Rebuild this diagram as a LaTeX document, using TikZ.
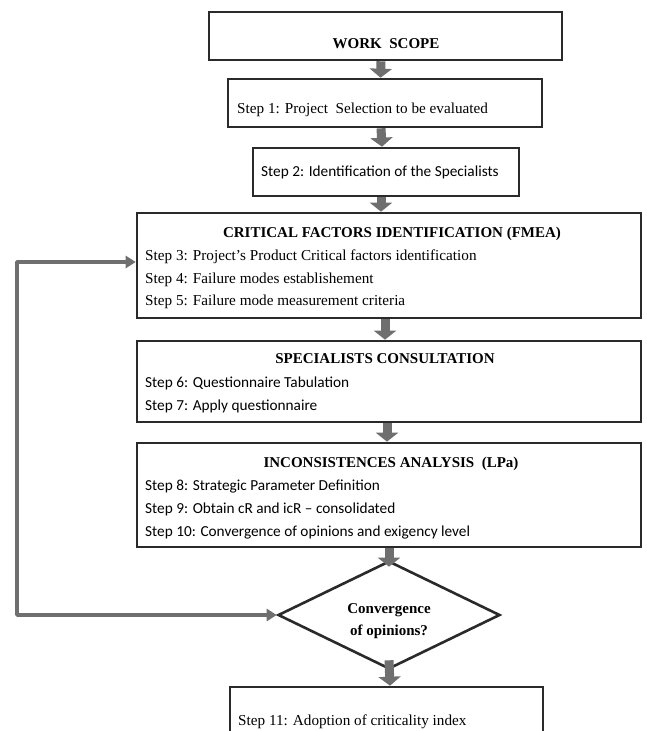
\documentclass[tikz,border=0pt]{standalone}
\usepackage{fontspec}
\setmainfont{Liberation Serif}
\newfontfamily\calib{Carlito}
\usetikzlibrary{arrows.meta,shapes.geometric,calc}
\definecolor{boxc}{HTML}{2A2A2A}
\definecolor{arrc}{HTML}{6F6F6F}
\begin{document}
\begin{tikzpicture}[x=1pt,y=-1pt,
  box/.style={draw=boxc, line width=2.6pt, fill=white, inner sep=0pt},
  ttl/.style={font=\fontsize{15}{15}\selectfont\bfseries, inner sep=0pt, anchor=base},
  ser/.style={font=\fontsize{15.2}{15}\selectfont, inner sep=0pt, anchor=base west},
  san/.style={font=\calib\fontsize{15.3}{15}\selectfont, inner sep=0pt, anchor=base west},
  blk/.style={draw=arrc, line width=9pt, -{Triangle[width=22pt,length=9pt]}},
  fb/.style={draw=arrc, line width=3.5pt, line join=round, {Triangle[width=12pt,length=10pt]}-{Triangle[width=12pt,length=10pt]}}
]
\clip (0,0) rectangle (646,731);
\fill[white] (0,0) rectangle (646,731);
% boxes
\node[box, minimum width=353pt, minimum height=48pt] (ws) at (385.5,36) {};
\node[box, minimum width=314pt, minimum height=48pt] (s1) at (385,103) {};
\node[box, minimum width=266pt, minimum height=48pt] (s2) at (386,172) {};
\node[box, minimum width=504pt, minimum height=105pt] (crit) at (389,265.5) {};
\node[box, minimum width=504pt, minimum height=81pt] (spec) at (389,381.5) {};
\node[box, minimum width=504pt, minimum height=104pt] (inc) at (389,495) {};
\node[box, diamond, minimum width=222pt, minimum height=108pt] (dia) at (389,615) {};
\node[box, minimum width=313pt, minimum height=83pt] (s11) at (386.5,728.5) {};
% texts
\node[ttl] (tws) at (386,48) {WORK\ \ SCOPE};
\node[ser] (ts1) at (237,113) {Step 1: Project\ \ Selection to be evaluated};
\node[san] (ts2) at (261,176) {Step 2: Identification of the Specialists};
\node[ttl] (tcrit) at (392,237) {CRITICAL FACTORS IDENTIFICATION (FMEA)};
\node[ser] (ts3) at (145,260) {Step 3: Project’s Product Critical factors identification};
\node[ser] (ts4) at (145,283) {Step 4: Failure modes establishement};
\node[ser] (ts5) at (145,305) {Step 5: Failure mode measurement criteria};
\node[ttl] (tspec) at (385,363) {SPECIALISTS CONSULTATION};
\node[san] (ts6) at (145,387) {Step 6: Questionnaire Tabulation};
\node[san] (ts7) at (145,410) {Step 7: Apply questionnaire};
\node[ttl] (tinc) at (391,467) {INCONSISTENCES ANALYSIS\ \ (LPa)};
\node[san] (ts8) at (145,490) {Step 8: Strategic Parameter Definition};
\node[san] (ts9) at (145,513) {Step 9: Obtain cR and icR – consolidated};
\node[san] (ts10) at (145,536) {Step 10: Convergence of opinions and exigency level};
\node[ttl] (tdia1) at (389,613) {Convergence};
\node[ttl] (tdia2) at (389,635) {of opinions?};
\node[ser] (ts11) at (238,725) {Step 11: Adoption of criticality index};
% block arrows
\draw[blk] ($(ws.south)+(-4.5,0)$) -- ($(s1.north)+(-4.5,0)$);
\draw[blk] ($(s1.south)+(-4,0)$) -- ($(s2.north)+(-4,0)$);
\draw[blk] ($(s2.south)+(-5,0)$) -- ($(s2.south |- crit.north)+(-5,0)$);
\draw[blk] ($(crit.south)+(-4,0)$) -- ($(spec.north)+(-4,0)$);
\draw[blk] ($(spec.south)+(-2,0)$) -- ($(inc.north)+(-2,0)$);
\draw[blk] (inc.south) -- ($(dia.north)+(0,7)$);
\draw[blk] ($(dia.south)+(0,-10)$) -- ($(dia.south |- s11.north)+(1,0)$);
% feedback loop
\coordinate (fbA) at (17,615);
\coordinate (fbB) at (17,262);
\draw[fb] (dia.west) -- (fbA) -- (fbB) -- (fbB -| crit.west);
\end{tikzpicture}
\end{document}
